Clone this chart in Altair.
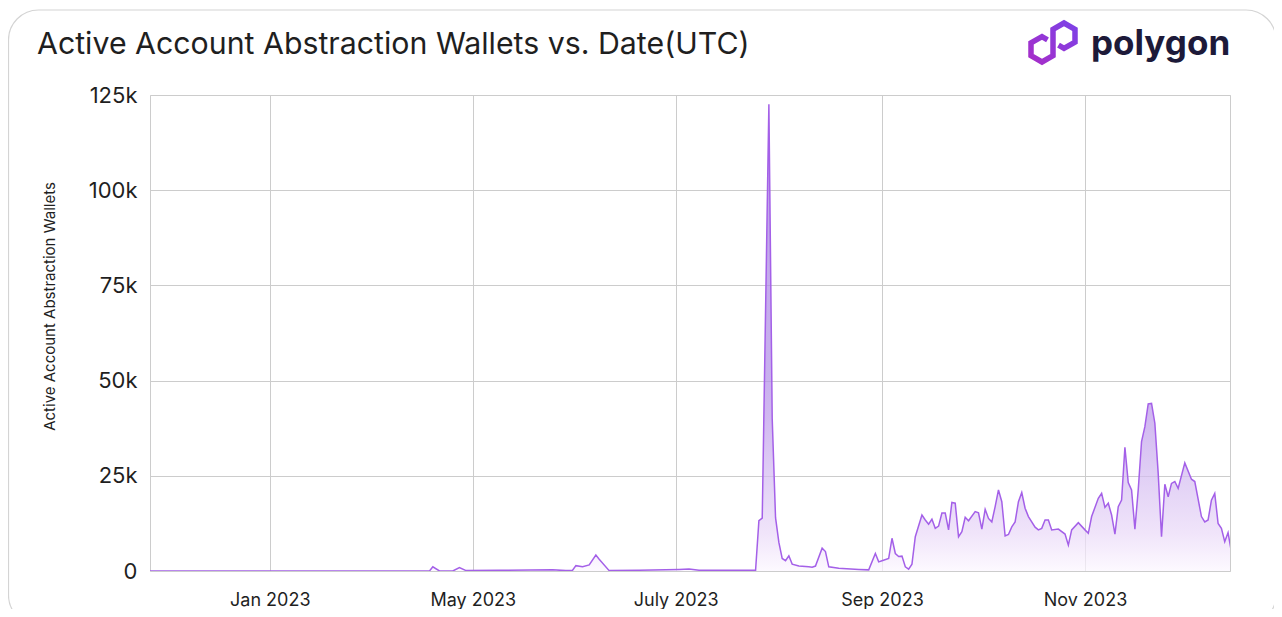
import altair as alt
import pandas as pd

# ---- data (days since 2023-01-24, values in thousands) ----
START_DATE = "2023-01-24"
day_offsets = [0, 84, 85, 87, 91, 93, 95, 105, 121, 125, 127, 128, 130, 132, 134, 135, 138, 147,
               159, 162, 165, 182, 183, 184, 186, 187, 188, 189, 190, 191, 192, 193, 195, 198, 199,
               200, 202, 203, 204, 207, 213, 216, 218, 219, 220, 222, 223, 224, 225, 226, 227, 228,
               229, 230, 232, 233, 234, 235, 236, 237, 238, 239, 240, 241, 242, 243, 244, 245, 246,
               248, 249, 250, 251, 252, 253, 254, 255, 256, 257, 258, 259, 260, 261, 262, 263, 264,
               266, 267, 268, 269, 270, 271, 273, 275, 276, 277, 279, 281, 282, 283, 285, 286, 287,
               288, 289, 290, 291, 292, 293, 294, 295, 296, 297, 298, 299, 300, 301, 302, 303, 304,
               305, 306, 307, 308, 309, 311, 313, 314, 316, 317, 318, 319, 320, 321, 322, 323, 324,
               325]
wallets_k = [0, 0, 1.1, 0, 0, 0.9, 0.1, 0.2, 0.3, 0.1, 0.2, 1.4, 1.1, 1.6, 4.2, 3.1, 0.1, 0.2,
             0.4, 0.5, 0.2, 0.2, 13.2, 13.9, 122.6, 40.0, 14.0, 7.5, 3.3, 2.7, 4.0, 1.8, 1.3, 1.1, 1.0,
             1.3, 6.0, 5.1, 1.1, 0.7, 0.4, 0.3, 4.6, 2.4, 2.7, 3.3, 8.6, 4.6, 3.8, 3.9, 1.1, 0.5,
             1.8, 9.0, 14.7, 13.4, 12.3, 13.6, 11.2, 11.8, 15.2, 15.2, 10.8, 18.0, 17.8, 9.0, 10.3, 14.1, 13.2,
             15.6, 15.3, 11.0, 16.2, 13.8, 12.9, 16.9, 21.3, 18.2, 9.2, 9.6, 11.6, 12.9, 18.2, 20.6, 16.5, 14.3,
             11.5, 10.8, 11.2, 13.4, 13.4, 10.8, 11.0, 9.7, 6.8, 10.8, 12.7, 10.8, 9.9, 14.3, 19.1, 20.4, 16.7,
             17.8, 14.7, 9.7, 16.9, 18.6, 32.5, 23.2, 21.3, 11.0, 21.3, 34.0, 37.9, 43.9, 44.0, 38.8, 25.7, 9.0,
             22.8, 19.5, 23.0, 23.5, 21.7, 28.4, 24.1, 23.5, 14.3, 12.9, 13.4, 18.6, 20.4, 12.5, 11.2, 7.7, 10.1,
             5.0]

x_tick_months = [3, 5, 7, 9, 11]
x_tick_labels = ["Jan 2023", "May 2023", "July 2023", "Sep 2023", "Nov 2023"]
y_ticks = [0, 25000, 50000, 75000, 100000, 125000]

TITLE = "Active Account Abstraction Wallets vs. Date(UTC)"
Y_TITLE = "Active Account Abstraction Wallets"
BRAND = "polygon"

start = pd.Timestamp(START_DATE)
df = pd.DataFrame({
    "date": [(start + pd.Timedelta(days=d)).strftime("%Y-%m-%d") for d in day_offsets],
    "wallets": [v * 1000 for v in wallets_k],
})

label_expr = " : ".join(
    f"utcmonth(datum.value) == {m - 1} ? '{lab}'" for m, lab in zip(x_tick_months, x_tick_labels)
) + " : ''"

x_enc = alt.X(
    "date:T",
    scale=alt.Scale(type="utc",
                    domain=[alt.DateTime(year=2023, month=1, date=24, utc=True),
                            alt.DateTime(year=2023, month=12, date=14, hours=14, utc=True)]),
    axis=alt.Axis(
        values=[alt.DateTime(year=2023, month=m, date=1, utc=True) for m in x_tick_months],
        labelExpr=label_expr, title=None, grid=True, ticks=False, domain=False,
        labelFontSize=18, labelPadding=20, labelColor="#1f1f1f",
    ),
)
y_enc = alt.Y(
    "wallets:Q",
    scale=alt.Scale(domain=[0, 125000], nice=False),
    axis=alt.Axis(
        values=y_ticks, labelExpr="datum.value == 0 ? '0' : (datum.value / 1000) + 'k'",
        title=Y_TITLE, titleFontSize=15, titleFontWeight="normal", titleColor="#1f1f1f",
        titleX=-101, titleY=211, titleAlign="center", titleBaseline="middle",
        grid=True, ticks=False, domain=False,
        labelFontSize=22, labelPadding=13, labelColor="#1f1f1f",
    ),
)

area = alt.Chart(df).mark_area(
    clip=True,
    interpolate="linear",
    line={"color": "#a460e8", "strokeWidth": 1.5},
    color=alt.Gradient(
        gradient="linear",
        stops=[
            alt.GradientStop(color="#fcf7ff", offset=0),
            alt.GradientStop(color="#ead9f8", offset=0.08),
            alt.GradientStop(color="#d4bcf1", offset=0.2),
            alt.GradientStop(color="#bd9aea", offset=0.33),
            alt.GradientStop(color="#b18ee6", offset=0.41),
            alt.GradientStop(color="#a680e2", offset=0.82),
            alt.GradientStop(color="#9e76df", offset=1),
        ],
        x1=1, x2=1, y1=1, y2=0,
    ),
).encode(x=x_enc, y=y_enc)

one = pd.DataFrame({"k": [0]})

card = alt.Chart(one).mark_rect(
    filled=False, stroke="#d4d4d4", strokeWidth=1.2, cornerRadius=30
).encode(x=alt.value(-141.5), x2=alt.value(1126), y=alt.value(-85), y2=alt.value(530))

title = alt.Chart(one).mark_text(
    text=TITLE, align="left", baseline="alphabetic", font="Inter", fontSize=30.3,
    color="#1f1f1f",
).encode(x=alt.value(-113), y=alt.value(-41))

logo_path = ("M-0.25,-0.123L-0.5,-0.268L-1,0.02L-1,0.598L-0.5,0.886L0,0.598L0,-0.598"
             "L0.5,-0.886L1,-0.598L1,-0.02L0.5,0.268L0.25,0.123")
logo = alt.Chart(one).mark_point(
    shape=logo_path, filled=False, size=1936, strokeWidth=5.5, opacity=1,
    strokeJoin="miter", strokeCap="butt",
    stroke=alt.Gradient(
        gradient="linear",
        stops=[alt.GradientStop(color="#a62ec9", offset=0),
               alt.GradientStop(color="#7d41e6", offset=1)],
        x1=0, y1=1, x2=1, y2=0,
    ),
).encode(x=alt.value(903), y=alt.value(-52.5))

brand = alt.Chart(one).mark_text(
    text=BRAND, align="left", baseline="alphabetic", font="Inter", fontSize=35,
    fontWeight="bold", color="#1d1a39",
).encode(x=alt.value(941), y=alt.value(-40))

chart = alt.layer(area, card, title, logo, brand).properties(
    width=1080, height=476,
    autosize=alt.AutoSizeParams(type="none"),
    padding={"left": 142, "top": 87, "right": 44, "bottom": 38},
    background="white",
).configure(font="Inter").configure_axis(
    gridColor="#cccccc", gridWidth=1, labelFont="Inter", titleFont="Inter",
).configure_view(stroke="#cccccc", strokeWidth=1)

chart.save("out.html", embed_options={"renderer": "svg", "actions": False})
